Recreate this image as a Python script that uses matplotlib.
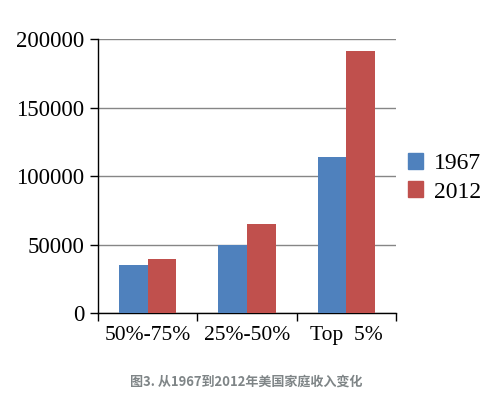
import numpy as np
import matplotlib
matplotlib.use("Agg")
import matplotlib.pyplot as plt
from matplotlib.patches import Patch

categories = ["50%-75%", "25%-50%", "Top  5%"]
years = ["1967", "2012"]
income_1967 = [35000, 50000, 114000]
income_2012 = [40000, 65000, 191500]
yticks = [0, 50000, 100000, 150000, 200000]
caption = "图3. 从1967到2012年美国家庭收入变化"

BLUE = "#4f81bd"
RED = "#c0504d"
SERIF = ["Liberation Serif", "DejaVu Serif"]

fig = plt.figure(figsize=(4.98, 3.98), dpi=100)
ax = fig.add_axes([0.1968, 0.2128, 0.5985, 0.6885])

x = np.arange(len(categories))
w = 0.29
ax.bar(x - w / 2, income_1967, w, color=BLUE, label=years[0], zorder=3)
ax.bar(x + w / 2, income_2012, w, color=RED, label=years[1], zorder=3)

ax.set_xlim(-0.5, len(categories) - 0.5)
ax.set_ylim(0, 200000)
ax.set_yticks(yticks)
ax.set_yticklabels([str(v) for v in yticks], fontfamily=SERIF, fontsize=16.5)
ax.yaxis.grid(True, color="#868686", lw=1, zorder=0)

# category labels centred, tick marks on group boundaries
ax.set_xticks(np.arange(len(categories) + 1) - 0.5)
ax.set_xticklabels([])
ax.set_xticks(x, minor=True)
ax.set_xticklabels(categories, minor=True, fontfamily=SERIF, fontsize=15.5)
ax.tick_params(axis="x", which="minor", length=0, pad=9)
ax.tick_params(axis="x", which="major", length=6, width=1, direction="out")
ax.tick_params(axis="y", length=6, width=1, direction="out", pad=4)

for s in ["top", "right"]:
    ax.spines[s].set_visible(False)
for s in ["left", "bottom"]:
    ax.spines[s].set_color("black")
    ax.spines[s].set_linewidth(1)

handles = [Patch(color=BLUE, label=years[0]), Patch(color=RED, label=years[1])]
fig.legend(handles=handles, loc="center left", bbox_to_anchor=(0.819, 0.553),
           frameon=False, prop={"family": SERIF, "size": 17},
           borderpad=0, borderaxespad=0,
           handlelength=0.65, handleheight=0.65, handletextpad=0.45,
           labelspacing=0.3)

fig.text(0.494, 0.04, caption, ha="center", va="center", fontsize=9.4,
         fontweight="bold", color="#7f8587",
         family=["Noto Sans CJK SC", "DejaVu Sans"])

fig.savefig("out.png", dpi=100)
